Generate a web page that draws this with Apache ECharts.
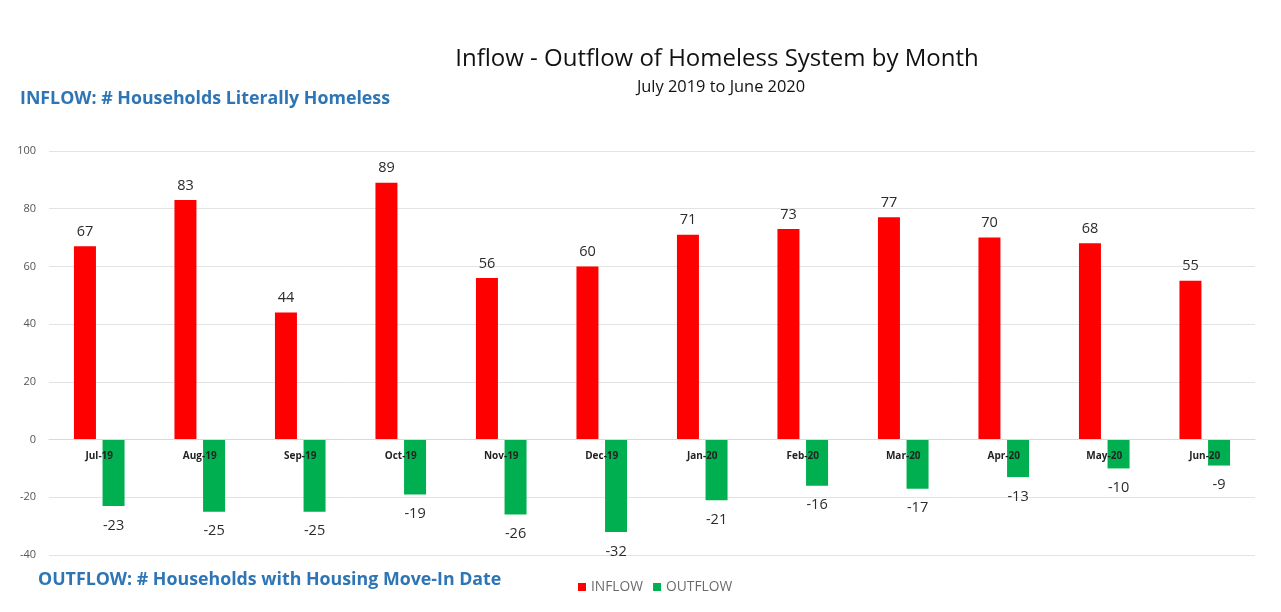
<!DOCTYPE html>
<html>
<head>
<meta charset="utf-8">
<script src="https://cdn.jsdelivr.net/npm/echarts@6/dist/echarts.min.js"></script>
<style>
html,body{margin:0;padding:0;background:#fff;}
#chart{width:1281px;height:612px;}
</style>
</head>
<body>
<div id="chart"></div>
<script>
const categories = ['Jul-19','Aug-19','Sep-19','Oct-19','Nov-19','Dec-19','Jan-20','Feb-20','Mar-20','Apr-20','May-20','Jun-20'];
const inflow = [67, 83, 44, 89, 56, 60, 71, 73, 77, 70, 68, 55];
const outflow = [-23, -25, -25, -19, -26, -32, -21, -16, -17, -13, -10, -9];
const yTicks = { min: -40, max: 100, step: 20 };

const chart = echarts.init(document.getElementById('chart'));
const font = '"Open Sans", "Noto Sans", sans-serif';
const gridTop = 151, gridBottom = 57, H = 612;
const plotH = H - gridTop - gridBottom;
const zeroOffset = -plotH * (0 - yTicks.min) / (yTicks.max - yTicks.min);
chart.setOption({
  backgroundColor: '#ffffff',
  animation: false,
  textStyle: { fontFamily: font },
  title: [
    { text: 'Inflow - Outflow of Homeless System by Month', left: 712, top: 42, textAlign: 'center',
      textStyle: { fontSize: 24, fontWeight: 'normal', color: '#111', fontFamily: font } },
    { text: 'July 2019 to June 2020', left: 716, top: 74, textAlign: 'center',
      textStyle: { fontSize: 16.4, fontWeight: 'normal', color: '#111', fontFamily: font } },
    { text: 'INFLOW: # Households Literally Homeless', left: 15, top: 85,
      textStyle: { fontSize: 17.8, fontWeight: 'bold', color: '#2E75B6', fontFamily: font } },
    { text: 'OUTFLOW: # Households with Housing Move-In Date', left: 33, top: 566,
      textStyle: { fontSize: 17.8, fontWeight: 'bold', color: '#2E75B6', fontFamily: font } }
  ],
  legend: {
    left: 573, top: 575, itemWidth: 8, itemHeight: 8, itemGap: 10,
    icon: 'rect',
    textStyle: { fontSize: 13.8, color: '#6b6b6b', fontFamily: font },
    data: ['INFLOW', 'OUTFLOW']
  },
  grid: { left: 49, right: 26, top: gridTop, bottom: gridBottom },
  xAxis: {
    type: 'category',
    data: categories,
    offset: zeroOffset,
    z: 5,
    axisLine: { show: true, onZero: false, lineStyle: { color: '#d9d9d9' } },
    axisTick: { show: false },
    axisLabel: { margin: 12, fontSize: 10, fontWeight: 'bold', color: '#222', fontFamily: font }
  },
  yAxis: {
    type: 'value', min: yTicks.min, max: yTicks.max, interval: yTicks.step,
    axisLine: { show: false }, axisTick: { show: false },
    axisLabel: { margin: 13, fontSize: 11, color: '#555', fontFamily: font },
    splitLine: { lineStyle: { color: '#e3e3e3', width: 1 } }
  },
  series: [
    { name: 'INFLOW', type: 'bar', data: inflow, barWidth: 22, barGap: '30%', z: 2,
      itemStyle: { color: '#FF0000' },
      label: { show: true, position: 'top', distance: 7, fontSize: 14.5, color: '#2b2b2b', fontFamily: font } },
    { name: 'OUTFLOW', type: 'bar', data: outflow, barWidth: 22, z: 2,
      itemStyle: { color: '#00B050' },
      label: { show: true, position: 'bottom', distance: 12, fontSize: 14.5, color: '#2b2b2b', fontFamily: font } }
  ]
});
</script>
</body>
</html>
